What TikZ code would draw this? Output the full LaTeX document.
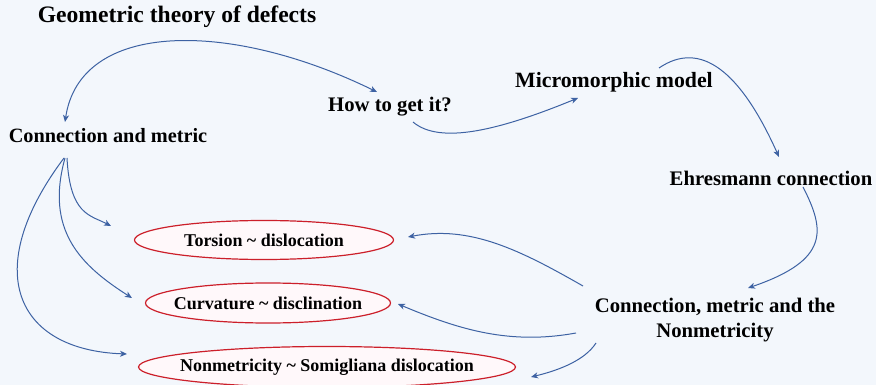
\documentclass[tikz,border=0pt]{standalone}
\usepackage{fontspec}
\setmainfont{Liberation Serif}
\usetikzlibrary{arrows.meta, shapes.geometric}
\definecolor{bgblue}{HTML}{F3F7FC}
\definecolor{linkblue}{HTML}{3D62A3}
\definecolor{ovalred}{HTML}{CC1F2A}
\definecolor{ovalfill}{HTML}{FFF8FA}
\tikzset{%
  topic/.style={inner sep=0pt, font=\bfseries\fontsize{20.7}{25}\selectfont},
  defect/.style={ellipse, draw=ovalred, fill=ovalfill, line width=1.2pt,
                 inner xsep=-25pt, inner ysep=0pt,
                 font=\bfseries\fontsize{18}{21}\selectfont},
  link/.style={draw=linkblue, line width=1pt, -{Stealth[length=7pt, width=6pt, inset=2pt]}},
}

\begin{document}
\begin{tikzpicture}[x=1pt, y=-1pt]

% background and page size
\fill[bgblue] (0,0) rectangle (876,385);
\useasboundingbox (0,0) rectangle (876,385);

% Text nodes
\node[topic, font=\bfseries\fontsize{23.6}{28}\selectfont] (title) at (177,17) {Geometric theory of defects};
\node[topic, font=\bfseries\fontsize{20.3}{24}\selectfont] (cm) at (108,136) {Connection and metric};
\node[topic] (how) at (390,107) {How to get it?};
\node[topic, font=\bfseries\fontsize{21.8}{26}\selectfont] (micro) at (614,82) {Micromorphic model};
\node[topic] (ehres) at (771,178) {Ehresmann connection};
\node[topic, align=center, font=\bfseries\fontsize{20.7}{25.5}\selectfont] (cmn) at (715,320) {Connection, metric and the\\Nonmetricity};

% The three defects
\node[defect, minimum width=259pt, minimum height=39pt] (torsion) at (264,240) {Torsion \textasciitilde{} dislocation};
\node[defect, minimum width=245pt, minimum height=40pt] (curv) at (268,303) {Curvature \textasciitilde{} disclination};
\node[defect, minimum width=377pt, minimum height=41pt] (nonmet) at (327,367) {Nonmetricity \textasciitilde{} Somigliana dislocation};

% Top chain
\draw[link, {Stealth[length=7pt, width=6pt, inset=2pt]}-{Stealth[length=7pt, width=6pt, inset=2pt]}] ([shift={(-43,-14)}]cm.center) .. controls (80,20) and (230,20) .. ([shift={(-13,-15)}]how.center);
\draw[link] ([shift={(23,15)}]how.center) .. controls (440,145) and (500,130) .. ([shift={(-36,16)}]micro.center);
\draw[link] ([shift={(45,-14)}]micro.center) .. controls (700,40) and (740,70) .. ([shift={(8,-21)}]ehres.center);
\draw[link] ([shift={(32,9)}]ehres.center) .. controls (825,230) and (830,260) .. ([shift={(33,-32)}]cmn.center);

% Back to the defects
\draw[link] ([shift={(-132,-34)}]cmn.center) .. controls (520,250) and (470,225) .. ([shift={(144,-3)}]torsion.center);
\draw[link] ([shift={(-139,13)}]cmn.center) .. controls (510,345) and (460,330) .. ([shift={(130,1)}]curv.center);
\draw[link] ([shift={(-119,23)}]cmn.center) .. controls (585,360) and (560,370) .. ([shift={(204,10)}]nonmet.center);

% Fan from connection and metric
\draw[link] ([shift={(-41,22)}]cm.center) .. controls (70,215) and (90,215) .. ([shift={(-153,-14)}]torsion.center);
\draw[link] ([shift={(-43,22)}]cm.center) .. controls (45,230) and (80,265) .. ([shift={(-136,-5)}]curv.center);
\draw[link] ([shift={(-44,22)}]cm.center) .. controls (-20,270) and (15,350) .. ([shift={(-200,-13)}]nonmet.center);

\end{tikzpicture}
\end{document}
